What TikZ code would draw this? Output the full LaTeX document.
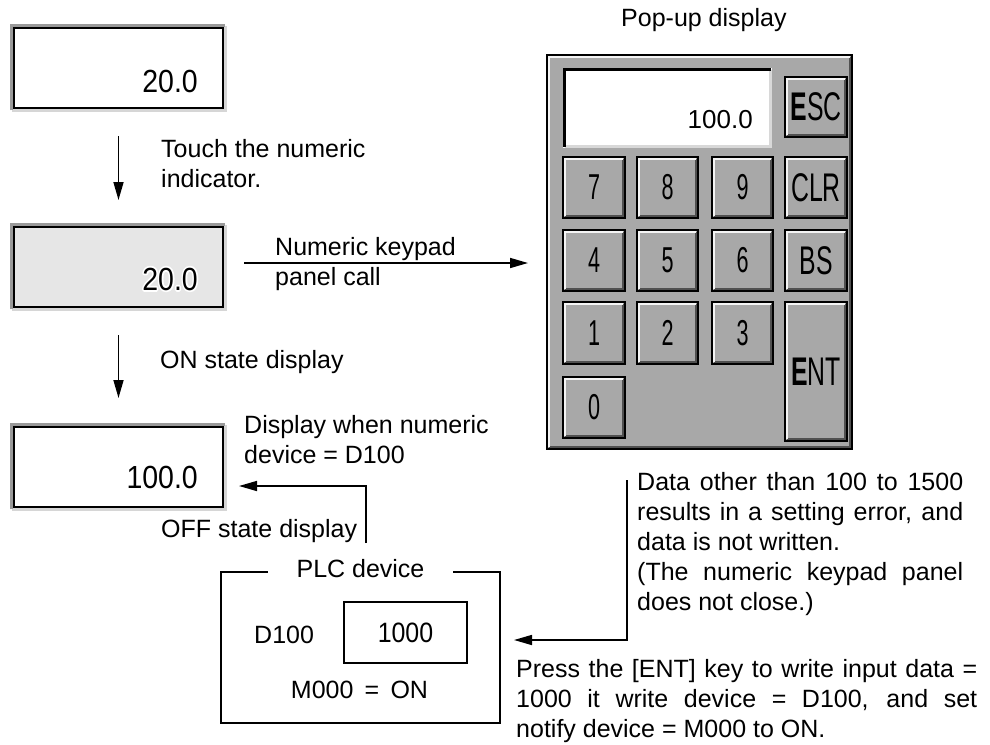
\documentclass[tikz,border=0pt]{standalone}
\usepackage{fontspec}
\setmainfont{Liberation Sans}
\usepackage{graphicx}
\usetikzlibrary{arrows.meta}
\definecolor{keygray}{HTML}{A8A8A8}
\definecolor{keydark}{HTML}{505050}
\definecolor{keylight}{HTML}{F4F4F4}
\definecolor{ongray}{HTML}{E6E6E6}
\definecolor{frdark}{HTML}{9A9A9A}
\definecolor{frlight}{HTML}{D6D6D6}
\definecolor{displight}{HTML}{D8D8D8}
\newcommand\txt{\fontsize{25}{30}\selectfont}
\newcommand\indfont[1]{\scalebox{0.89}[1]{\fontsize{32}{32}\selectfont #1}}
\newcommand\keyfont[1]{\scalebox{0.6}[1]{\fontsize{36}{36}\selectfont #1}}
\newcommand\keyfontL[1]{\scalebox{0.62}[1]{\fontsize{40}{40}\selectfont #1}}
\newcommand\halotext[1]{\special{pdf:code q 1 Tr 3.6 w 1 J 1 j 1 1 1 RG}#1\special{pdf:code Q}}
\newcommand\indframe[1]{%
  \draw[frlight,line width=3pt] ([shift={(-2.25pt,-2.25pt)}]#1.south west) -| ([shift={(2.25pt,2.25pt)}]#1.north east);
  \draw[frdark,line width=3pt] ([shift={(-2.25pt,-2.25pt)}]#1.south west) |- ([shift={(2.25pt,2.25pt)}]#1.north east);}
\begin{document}
\begin{tikzpicture}[x=1pt,y=-1pt,
  arr/.style={line width=1.6pt,-{Triangle[length=18pt,width=10pt]}},
  txtnode/.style={inner sep=0pt,anchor=base west,font=\txt},
  indbox/.style={draw=black,line width=1.5pt,minimum width=209pt,minimum height=80pt,inner sep=0pt,outer sep=0pt},
  valtext/.style={anchor=base east,inner sep=0pt},
  key/.style={draw=black,line width=1.5pt,fill=keygray,inner sep=0pt,outer sep=0pt,
    minimum width=62pt,minimum height=61pt,
    path picture={
      \draw[keydark,line width=2pt] ([shift={(1.75pt,1.75pt)}]path picture bounding box.south west) -| ([shift={(-1.75pt,-1.75pt)}]path picture bounding box.north east);
      \draw[keylight,line width=2pt] ([shift={(1.75pt,1.75pt)}]path picture bounding box.south west) |- ([shift={(-1.75pt,-1.75pt)}]path picture bounding box.north east);
    }},
  padframe/.style={draw=black,line width=2pt,fill=keygray,inner sep=0pt,outer sep=0pt,
    path picture={
      \draw[keydark,line width=2pt] ([shift={(2pt,2pt)}]path picture bounding box.south west) -| ([shift={(-2pt,-2pt)}]path picture bounding box.north east);
      \draw[keylight,line width=2pt] ([shift={(2pt,2pt)}]path picture bounding box.south west) |- ([shift={(-2pt,-2pt)}]path picture bounding box.north east);
    }},
  dispbox/.style={fill=white,inner sep=0pt,outer sep=0pt,
    path picture={
      \draw[displight,line width=3pt] ([shift={(1.5pt,1.5pt)}]path picture bounding box.south west) -| ([shift={(-1.5pt,-1.5pt)}]path picture bounding box.north east);
      \draw[black,line width=3pt] ([shift={(1.5pt,1.5pt)}]path picture bounding box.south west) |- ([shift={(-1.5pt,-1.5pt)}]path picture bounding box.north east);
    }},
  plcbox/.style={draw=black,line width=1.6pt,inner sep=0pt,outer sep=0pt}
]
\useasboundingbox (0,0) rectangle (990,744);

% --- numeric indicators ---
\node[indbox,fill=white] (b1) at (118.5,68) {};
\node[indbox,fill=ongray] (b2) at (118.5,267) {};
\node[indbox,fill=white] (b3) at (118.5,467) {};
\indframe{b1}
\indframe{b2}
\indframe{b3}
\node[valtext] (v1) at (198,92) {\indfont{20.0}};
\node[valtext] (v2h) at (198,290) {\halotext{\indfont{20.0}}};
\node[valtext] (v2) at (198,290) {\indfont{20.0}};
\node[valtext] (v3) at (198,488) {\indfont{100.0}};

% --- texts left ---
\node[txtnode] (t1) at (161,157) {\parbox[t]{260pt}{\txt Touch the numeric\\indicator.}};
\node[txtnode] (t2) at (275,255) {\parbox[t]{220pt}{\txt Numeric keypad\\panel call}};
\node[txtnode] (t3) at (160,368) {ON state display};
\node[txtnode] (t4) at (244,433) {\parbox[t]{290pt}{\txt Display when numeric\\device = D100}};
\node[txtnode] (t5) at (161,537) {OFF state display};
\node[txtnode] (t6) at (621,27) {Pop-up display};

% --- keypad ---
\node[padframe,minimum width=305pt,minimum height=394pt] (kp) at (699.5,252) {};
\node[dispbox,minimum width=209pt,minimum height=80pt] (disp) at (667.5,108) {};
\node[valtext] (dv) at (753,128) {\fontsize{26}{26}\selectfont 100.0};
\node[key,minimum height=60pt] (kesc) at (816,107) {\keyfontL{\textbf{E}SC}};
\node[key] (k7) at (594,187.5) {\keyfont{7}};
\node[key,minimum width=61pt] (k8) at (667.5,187.5) {\keyfont{8}};
\node[key,minimum width=61pt] (k9) at (742.5,187.5) {\keyfont{9}};
\node[key] (kclr) at (816,187.5) {\keyfontL{CLR}};
\node[key] (k4) at (594,260.5) {\keyfont{4}};
\node[key,minimum width=61pt] (k5) at (667.5,260.5) {\keyfont{5}};
\node[key,minimum width=61pt] (k6) at (742.5,260.5) {\keyfont{6}};
\node[key] (kbs) at (816,260.5) {\keyfontL{BS}};
\node[key,minimum height=62pt] (k1) at (594,333) {\keyfont{1}};
\node[key,minimum width=61pt,minimum height=62pt] (k2) at (667.5,333) {\keyfont{2}};
\node[key,minimum width=61pt,minimum height=62pt] (k3) at (742.5,333) {\keyfont{3}};
\node[key,minimum height=139pt] (kent) at (816,371.5) {\keyfontL{\textbf{E}NT}};
\node[key] (k0) at (594,407.5) {\keyfont{0}};

% --- PLC device ---
\node[plcbox,minimum width=279pt,minimum height=151pt] (plc) at (360.5,647.5) {};
\node[fill=white,inner xsep=29pt,inner ysep=3pt,font=\txt,anchor=base] (plct) at (360.5,577) {PLC device};
\node[txtnode] (d100) at (254,643) {D100};
\node[plcbox,minimum width=123pt,minimum height=61pt] (val) at (405.5,632.5) {\scalebox{0.89}[1]{\fontsize{28}{28}\selectfont 1000}};
\node[inner sep=0pt,anchor=base,font=\txt] (mon) at (359.5,698) {M000\hspace{0.45em}=\hspace{0.45em}ON};

% --- notes right ---
\node[txtnode] (n1) at (637,490) {\parbox[t]{326pt}{\txt
  \makebox[\linewidth][s]{Data other than 100 to 1500}\\
  \makebox[\linewidth][s]{results in a setting error, and}\\
  data is not written.\\
  \makebox[\linewidth][s]{(The numeric keypad panel}\\
  does not close.)}};
\node[txtnode] (n2) at (516,677) {\parbox[t]{461pt}{\txt
  \makebox[\linewidth][s]{Press the [ENT] key to write input data =}\\
  \makebox[\linewidth][s]{1000 it write device = D100, and set}\\
  notify device = M000 to ON.}};

% --- connectors ---
\draw[arr,shorten <=28pt,shorten >=27pt] (b1.south) -- (b2.north);
\draw[arr,shorten <=21pt,shorten >=19pt] ([yshift=4pt]b2.east) -- ([yshift=4pt]b2.east -| kp.west);
\draw[arr,shorten <=28pt,shorten >=29pt] (b2.south) -- (b3.north);
\draw[arr] ([xshift=5.5pt,yshift=29pt]plc.north) |- ([xshift=16pt,yshift=-19pt]b3.east);
\draw[arr] ([xshift=-72.5pt,yshift=-31pt]kp.south) |- ([xshift=14pt,yshift=7.5pt]plc.east);
\end{tikzpicture}
\end{document}
